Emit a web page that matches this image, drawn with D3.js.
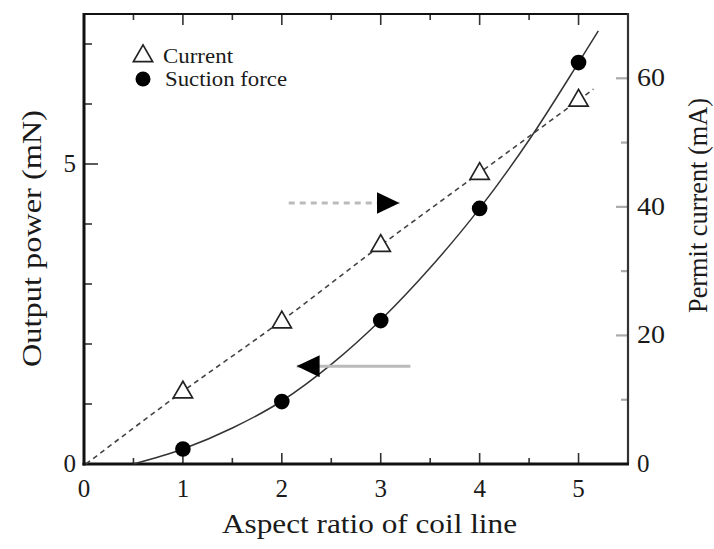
<!DOCTYPE html>
<html>
<head>
<meta charset="utf-8">
<script src="https://cdn.jsdelivr.net/npm/d3@7"></script>
<style>
  body { margin: 0; background: #fff; }
  text { font-family: "Times New Roman", Times, "Liberation Serif", serif; fill: #1a1a1a; }
</style>
</head>
<body>
<svg width="714" height="549"></svg>
<script>
// data
var aspect = [1, 2, 3, 4, 5];
var suction = [0.25, 1.04, 2.39, 4.26, 6.69];      // mN, left axis
var current = [11.3, 22.2, 34.1, 45.3, 56.7];      // mA, right axis

// drawn trend lines
var suctionFitX = [0.5, 1, 1.5, 2, 2.5, 3, 3.5, 4, 4.5, 5, 5.2];
var suctionFitY = [0, 0.25, 0.6, 1.05, 1.66, 2.4, 3.27, 4.26, 5.4, 6.69, 7.22];
var currentFitX = [0.02, 1, 2, 3, 4, 5, 5.15];
var currentFitY = [0, 11.3, 22.3, 34, 45.3, 56.6, 58.3];

var xTicks = [0, 1, 2, 3, 4, 5];
var leftTicks = [0, 5];
var rightTicks = [0, 20, 40, 60];

var svg = d3.select("svg");
var margin = {left: 84, top: 14, right: 86, bottom: 85};
var width = 714 - margin.left - margin.right;
var height = 549 - margin.top - margin.bottom;

var x = d3.scaleLinear().domain([0, 5.5]).range([margin.left, margin.left + width]);
var yL = d3.scaleLinear().domain([0, 7.5]).range([margin.top + height, margin.top]);
var yR = d3.scaleLinear().domain([0, 70]).range([margin.top + height, margin.top]);

// arrow heads
var defs = svg.append("defs");
defs.append("marker")
  .attr("id", "head")
  .attr("viewBox", "0 -11 23 22")
  .attr("refX", 23)
  .attr("refY", 0)
  .attr("markerUnits", "userSpaceOnUse")
  .attr("markerWidth", 23)
  .attr("markerHeight", 22)
  .attr("orient", "auto")
  .append("path")
  .attr("fill", "#000")
  .attr("d", "M0,-11L23,0L0,11Z");

// minor/major ticks, drawn inward
var g = svg.append("g");
var halfTicks = d3.range(0.5, 5.5, 0.5);
halfTicks.forEach(function(t) {
  var major = Math.abs(t - Math.round(t)) < 1e-6;
  var len = major ? 11 : 6;
  g.append("line").attr("x1", x(t)).attr("x2", x(t))
    .attr("y1", yL(0)).attr("y2", yL(0) - len)
    .attr("stroke", "#333").attr("stroke-width", 1.6);
  g.append("line").attr("x1", x(t)).attr("x2", x(t))
    .attr("y1", yL(7.5)).attr("y2", yL(7.5) + len)
    .attr("stroke", "#333").attr("stroke-width", 1.6);
});
d3.range(1, 8).forEach(function(t) {
  var len = (t === 5) ? 14 : 8;
  g.append("line").attr("x1", x(0)).attr("x2", x(0) + len)
    .attr("y1", yL(t)).attr("y2", yL(t))
    .attr("stroke", "#333").attr("stroke-width", 1.6);
});
d3.range(10, 70, 10).forEach(function(t) {
  var len = (t % 20 === 0) ? 12 : 7;
  g.append("line").attr("x1", x(5.5)).attr("x2", x(5.5) - len)
    .attr("y1", yR(t)).attr("y2", yR(t))
    .attr("stroke", "#aaa").attr("stroke-width", 2.2);
});

// frame
svg.append("line").attr("x1", x(0)).attr("x2", x(5.5)).attr("y1", yL(7.5)).attr("y2", yL(7.5))
  .attr("stroke", "#111").attr("stroke-width", 2.2);
svg.append("line").attr("x1", x(5.5)).attr("x2", x(5.5)).attr("y1", yL(7.5) - 1).attr("y2", yL(0))
  .attr("stroke", "#333").attr("stroke-width", 2.2);
svg.append("line").attr("x1", x(0)).attr("x2", x(0)).attr("y1", yL(7.5) - 1).attr("y2", yL(0) + 1.5)
  .attr("stroke", "#111").attr("stroke-width", 3);
svg.append("line").attr("x1", x(0) - 1.5).attr("x2", x(5.5) + 1).attr("y1", yL(0)).attr("y2", yL(0))
  .attr("stroke", "#111").attr("stroke-width", 3);

// tick labels
svg.selectAll(".xt").data(xTicks).enter().append("text")
  .attr("x", function(d) { return x(d); })
  .attr("y", yL(0) + 33)
  .attr("text-anchor", "middle")
  .attr("font-size", 25)
  .text(function(d) { return d; });
svg.selectAll(".yl").data(leftTicks).enter().append("text")
  .attr("x", x(0) - 8)
  .attr("y", function(d) { return yL(d) + 8; })
  .attr("text-anchor", "end")
  .attr("font-size", 25)
  .text(function(d) { return d; });
svg.selectAll(".yr").data(rightTicks).enter().append("text")
  .attr("x", x(5.5) + 9)
  .attr("y", function(d) { return yR(d) + 8; })
  .attr("text-anchor", "start")
  .attr("font-size", 25)
  .attr("textLength", function(d) { return d >= 10 ? 28 : null; })
  .attr("lengthAdjust", "spacingAndGlyphs")
  .text(function(d) { return d; });

// axis titles (the source figure's lettering is wide, hence textLength)
svg.append("text")
  .attr("x", 222).attr("y", 533)
  .attr("font-size", 27)
  .attr("textLength", 295).attr("lengthAdjust", "spacingAndGlyphs")
  .text("Aspect ratio of coil line");
svg.append("text")
  .attr("transform", "translate(41,367) rotate(-90)")
  .attr("font-size", 27)
  .attr("textLength", 257).attr("lengthAdjust", "spacingAndGlyphs")
  .text("Output power (mN)");
svg.append("text")
  .attr("transform", "translate(707,313) rotate(-90)")
  .attr("font-size", 27)
  .attr("textLength", 215).attr("lengthAdjust", "spacingAndGlyphs")
  .text("Permit current (mA)");

// trend lines
var lineL = d3.line()
  .x(function(d) { return x(d[0]); })
  .y(function(d) { return yL(d[1]); })
  .curve(d3.curveMonotoneX);
var lineR = d3.line()
  .x(function(d) { return x(d[0]); })
  .y(function(d) { return yR(d[1]); })
  .curve(d3.curveMonotoneX);

svg.append("path")
  .datum(d3.zip(currentFitX, currentFitY))
  .attr("d", lineR)
  .attr("fill", "none").attr("stroke", "#444")
  .attr("stroke-width", 1.6).attr("stroke-dasharray", "5,4");
svg.append("path")
  .datum(d3.zip(suctionFitX, suctionFitY))
  .attr("d", lineL)
  .attr("fill", "none").attr("stroke", "#333")
  .attr("stroke-width", 1.5);

// arrows telling which axis belongs to which series
svg.append("line")
  .attr("x1", x(2.07)).attr("x2", x(3.19))
  .attr("y1", yR(40.6)).attr("y2", yR(40.6))
  .attr("stroke", "#bbb").attr("stroke-width", 3).attr("stroke-dasharray", "6,5")
  .attr("marker-end", "url(#head)");
svg.append("line")
  .attr("x1", x(3.3)).attr("x2", x(2.15))
  .attr("y1", yL(1.63)).attr("y2", yL(1.63))
  .attr("stroke", "#bbb").attr("stroke-width", 3)
  .attr("marker-end", "url(#head)");

// markers
var tri = d3.symbol().type(d3.symbolTriangle).size(160);
svg.selectAll(".tri").data(d3.zip(aspect, current)).enter().append("path")
  .attr("d", tri)
  .attr("transform", function(d) { return "translate(" + x(d[0]) + "," + (yR(d[1]) + 1) + ")"; })
  .attr("fill", "#fff").attr("stroke", "#222").attr("stroke-width", 1.7);
svg.selectAll(".dot").data(d3.zip(aspect, suction)).enter().append("circle")
  .attr("cx", function(d) { return x(d[0]); })
  .attr("cy", function(d) { return yL(d[1]); })
  .attr("r", 7.8)
  .attr("fill", "#000");

// legend
var leg = svg.append("g").attr("transform", "translate(143,0)");
leg.append("path").attr("d", tri)
  .attr("transform", "translate(0,56)")
  .attr("fill", "#fff").attr("stroke", "#222").attr("stroke-width", 1.7);
leg.append("text").attr("x", 20).attr("y", 63).attr("font-size", 20)
  .attr("textLength", 70).attr("lengthAdjust", "spacingAndGlyphs").text("Current");
leg.append("circle").attr("cx", 0).attr("cy", 79).attr("r", 7.5).attr("fill", "#000");
leg.append("text").attr("x", 22).attr("y", 86).attr("font-size", 20)
  .attr("textLength", 122).attr("lengthAdjust", "spacingAndGlyphs").text("Suction force");
</script>
</body>
</html>
